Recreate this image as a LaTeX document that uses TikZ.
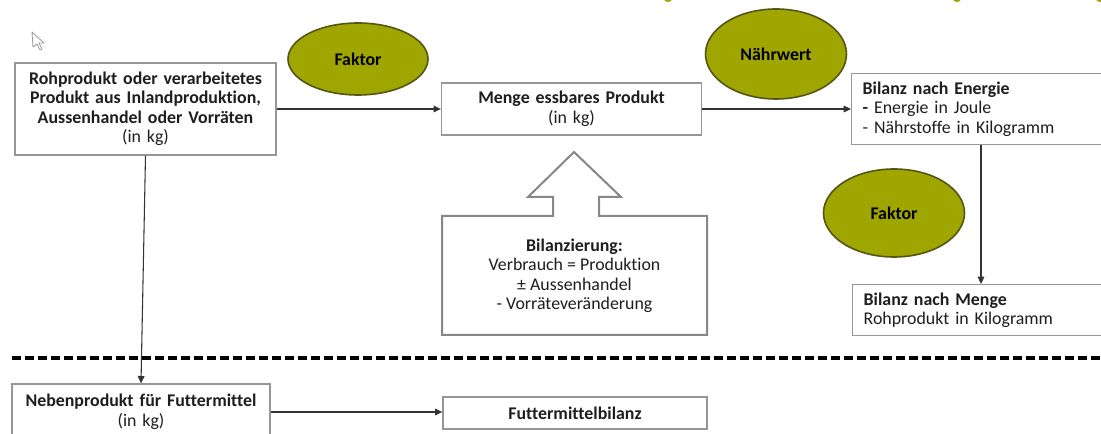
\documentclass[tikz,border=0pt]{standalone}
\usepackage{fontspec}
\setmainfont{Carlito}[Ligatures={NoCommon}]
\usetikzlibrary{arrows.meta,calc,shapes.geometric}
\definecolor{olivefill}{RGB}{160,166,0}
\definecolor{oliveline}{RGB}{85,85,25}
\definecolor{boxgray}{RGB}{150,150,150}
\definecolor{calloutgray}{RGB}{135,135,135}
\definecolor{txt}{RGB}{30,30,30}
\begin{document}
\begin{tikzpicture}[x=0.75pt,y=-0.75pt,
  font=\fontsize{13.4}{14.6}\selectfont, text=txt,
  box/.style={draw=boxgray,line width=1pt,fill=white,inner sep=0pt,align=center},
  lbox/.style={draw=boxgray,line width=1pt,fill=white,inner ysep=0pt,inner xsep=8.25pt,align=left,anchor=north west},
  ell/.style={ellipse,draw=oliveline,line width=1.2pt,fill=olivefill,inner sep=0pt,font=\fontsize{13.4}{14.6}\selectfont\bfseries,text=black},
  arr/.style={draw=black!80,line width=0.8pt,-{Triangle[length=5.5pt,width=5pt]}},
  sep/.style={draw=black,line width=2.3pt,dash pattern=on 6.75pt off 3pt}
]
\useasboundingbox (0,0) rectangle (1101,434);
\clip (0,0) rectangle (1101,434);

% cut-off title fragments
\fill[olivefill] (668,-1) ellipse (4 and 3);
\fill[olivefill] (957,-1) ellipse (4 and 3);
\fill[olivefill] (1100,-1) ellipse (4 and 3);

% mouse cursor
\draw[draw=gray!80,fill=white,line width=0.6pt,line join=round]
  (32,32) -- (33,47) -- (37,44) -- (40,50) -- (42,49) -- (39,43) -- (44,43) -- cycle;

% ellipses
\node[ell,minimum width=105pt,minimum height=54pt] (f1) at (358,59) {Faktor};
\node[ell,minimum width=105.75pt,minimum height=67.5pt] (nw) at (776,54) {Nährwert};
\node[ell,minimum width=105.75pt,minimum height=66pt] (f2) at (894,213) {Faktor};

% boxes
\node[box,minimum width=195.75pt,minimum height=69pt,text width=190pt] (b1) at (145.5,109)
  {\textbf{Rohprodukt oder verarbeitetes}\\\textbf{Produkt aus Inlandproduktion,}\\\textbf{Aussenhandel oder Vorräten}\\(in kg)};
\node[box,minimum width=195pt,minimum height=39pt,text width=190pt] (b2) at (571.5,109)
  {\textbf{Menge essbares Produkt}\\(in kg)};
\node[lbox,minimum height=53.25pt,text width=177.75pt] (b3) at (851,73)
  {\textbf{Bilanz nach Energie}\\\textbf{-} Energie in Joule\\- Nährstoffe in Kilogramm};
\node[lbox,minimum height=38.25pt,text width=177pt] (b4) at (852,284)
  {\textbf{Bilanz nach Menge}\\Rohprodukt in Kilogramm};
\node[box,minimum width=193.5pt,minimum height=42pt,text width=190pt] (b5) at (141,412)
  {\textbf{Nebenprodukt für Futtermittel}\\(in kg)};
\node[box,minimum width=198pt,minimum height=24pt,text width=190pt] (b6) at (575,413)
  {\textbf{Futtermittelbilanz}};

% callout with up arrow
\draw[draw=calloutgray,line width=1.5pt,fill=white,line join=miter]
  (442,216) -- (553,216) -- (553,197) -- (528,197) -- (574,152) -- (621,197)
  -- (599,197) -- (599,216) -- (707,216) -- (707,335) -- (442,335) -- cycle;
\node[align=center,inner sep=0pt] (cb) at (574.5,276)
  {\textbf{Bilanzierung:}\\Verbrauch = Produktion\\± Aussenhandel\\- Vorräteveränderung};

% separator
\coordinate (sl) at (12,358);
\coordinate (sr) at (1101,358);
\draw[sep] (sl) -- (sr);

% connectors
\draw[arr] (b1.east) -- (b1.east -| b2.west);
\draw[arr] (b2.east) -- (b2.east -| b3.west);
\draw[arr] ($(b3.south west)+(130,0)$) -- ($(b4.north west)+(129,0)$);
\draw[arr] (b1.south) -- (b5.north);
\draw[arr] (b5.east) -- (b5.east -| b6.west);
\end{tikzpicture}
\end{document}
